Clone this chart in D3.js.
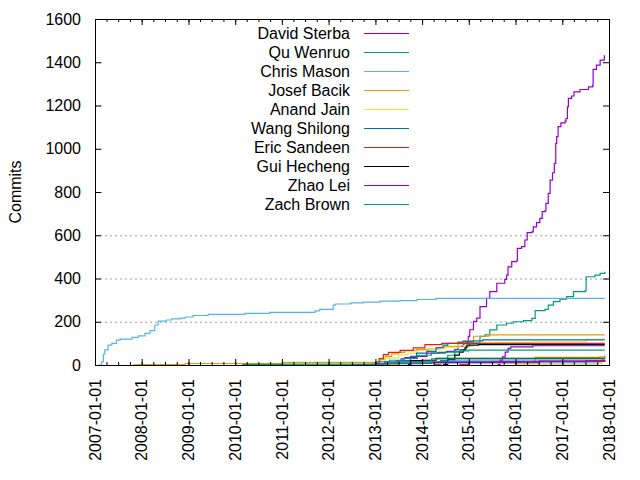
<!DOCTYPE html>
<html>
<head>
<meta charset="utf-8">
<script src="https://cdn.jsdelivr.net/npm/d3@7"></script>
<style>
  body { margin: 0; background: #fff; }
  text { font-family: "Liberation Sans", Arial, sans-serif; }
</style>
</head>
<body>
<div id="chart"></div>
<script>
// cumulative commits, [year as decimal, count]
const davidSterba = [[2012.6,1],[2012.9,3],[2013.2,8],[2013.45,20],[2013.55,28],[2013.63,34],[2013.88,40],[2014.1,55],[2014.35,58],[2014.53,63],[2014.7,71],[2014.77,86],[2014.88,97],[2014.92,102],[2014.99,132],[2015.02,163],[2015.1,202],[2015.17,217],[2015.24,270],[2015.38,308],[2015.45,339],[2015.6,378],[2015.77,396],[2015.81,416],[2015.84,454],[2015.92,478],[2016.02,481],[2016.04,539],[2016.13,547],[2016.2,578],[2016.25,612],[2016.35,616],[2016.38,639],[2016.45,658],[2016.52,678],[2016.57,709],[2016.63,713],[2016.65,747],[2016.7,794],[2016.74,855],[2016.79,889],[2016.83,932],[2016.86,1025],[2016.88,1056],[2016.91,1102],[2016.97,1120],[2017.06,1128],[2017.08,1140],[2017.11,1194],[2017.13,1233],[2017.2,1244],[2017.25,1263],[2017.38,1274],[2017.56,1286],[2017.65,1293],[2017.66,1367],[2017.73,1387],[2017.81,1410],[2017.9,1432]];
const quWenruo = [[2014.25,2],[2014.4,20],[2014.55,45],[2014.7,63],[2014.81,71],[2014.95,86],[2015.02,102],[2015.24,132],[2015.35,139],[2015.45,162],[2015.6,185],[2015.81,193],[2015.95,200],[2016.17,205],[2016.35,216],[2016.42,251],[2016.63,257],[2016.7,277],[2016.81,293],[2016.95,304],[2017.09,316],[2017.24,339],[2017.49,343],[2017.51,408],[2017.7,416],[2017.81,424],[2017.91,431]];
const chrisMason = [[2007.07,0],[2007.14,15],[2007.18,50],[2007.21,70],[2007.28,92],[2007.36,100],[2007.46,115],[2007.54,120],[2007.79,128],[2007.93,135],[2008.07,146],[2008.18,159],[2008.28,185],[2008.35,203],[2008.53,208],[2008.64,213],[2008.82,217],[2008.93,222],[2009.1,229],[2009.42,234],[2010.21,239],[2010.74,243],[2011.71,250],[2011.81,257],[2012.1,277],[2012.14,282],[2012.46,284],[2012.48,287],[2012.74,291],[2013.1,295],[2013.53,298],[2013.89,303],[2014.3,308],[2017.91,308]];
const josefBacik = [[2007.82,2],[2008.93,7],[2011.02,12],[2012.99,15],[2013.1,25],[2013.21,40],[2013.35,51],[2013.49,58],[2013.63,66],[2013.88,71],[2014.13,74],[2014.38,82],[2014.49,86],[2014.77,102],[2014.88,112],[2015.1,133],[2015.44,139],[2017.91,139]];
const anandJain = [[2013.0,3],[2013.2,32],[2013.5,48],[2013.7,55],[2013.9,66],[2014.2,74],[2014.5,82],[2014.8,88],[2015.1,100],[2015.3,105],[2016.37,107],[2017.5,110],[2017.52,120],[2017.91,120]];
const wangShilong = [[2013.2,3],[2013.5,20],[2013.75,40],[2013.88,55],[2014.1,63],[2014.3,80],[2014.45,92],[2014.55,100],[2014.77,106],[2014.88,109],[2015.1,112],[2015.3,116],[2017.91,116]];
const ericSandeen = [[2013.0,5],[2013.08,30],[2013.17,48],[2013.28,58],[2013.53,68],[2013.81,79],[2014.06,94],[2014.42,100],[2017.91,100]];
const guiHecheng = [[2014.45,3],[2014.55,25],[2014.7,46],[2014.8,60],[2014.88,69],[2014.92,82],[2014.96,92],[2015.2,94],[2017.91,94]];
const zhaoLei = [[2015.62,2],[2015.67,23],[2015.72,38],[2015.78,60],[2015.84,77],[2015.9,84],[2016.37,89],[2017.91,89]];
const zachBrown = [[2013.0,2],[2013.05,15],[2013.3,22],[2013.6,30],[2013.9,45],[2014.2,55],[2014.5,60],[2014.8,65],[2015.0,69],[2017.91,69]];
// smaller contributors, drawn without a key entry
const other11 = [[2011.0,2],[2013.2,5],[2014.0,8],[2016.5,10],[2017.85,25],[2017.91,46]];
const other12 = [[2013.1,3],[2013.5,8],[2014.5,12],[2016.4,18],[2016.42,35],[2017.8,38],[2017.91,42]];
const other13 = [[2016.0,2],[2017.7,3],[2017.75,10],[2017.85,22],[2017.91,30]];
const other14 = [[2013.0,2],[2013.2,14],[2014.4,18],[2017.91,20]];
const other15 = [[2014.8,2],[2015.0,12],[2016.5,15],[2017.5,20],[2017.91,22]];
const other16 = [[2013.7,3],[2013.75,20],[2014.0,22],[2014.3,31],[2017.91,31]];
const other17 = [[2012.5,2],[2013.0,8],[2014.2,12],[2015.5,15],[2016.5,18],[2017.91,22]];
const other18 = [[2010.15,3],[2011.0,4],[2013.3,10],[2014.2,28],[2017.91,28]];

const names = ["David Sterba","Qu Wenruo","Chris Mason","Josef Bacik","Anand Jain","Wang Shilong","Eric Sandeen","Gui Hecheng","Zhao Lei","Zach Brown"];
const seriesData = [davidSterba, quWenruo, chrisMason, josefBacik, anandJain, wangShilong, ericSandeen, guiHecheng, zhaoLei, zachBrown,
  other11, other12, other13, other14, other15, other16, other17, other18];
const colors = ["#9400d3","#009e73","#56b4e9","#e69f00","#f0e442","#0072b2","#e51e10","#000000"];
const yTicks = [0, 200, 400, 600, 800, 1000, 1200, 1400, 1600];
const xYears = d3.range(2007, 2019);

const width = 640, height = 480;
const plotL = 95, plotR = 609, plotT = 19, plotB = 365;

const yearToDate = f => {
  const yr = Math.floor(f);
  const a = Date.UTC(yr, 0, 1), b = Date.UTC(yr + 1, 0, 1);
  return new Date(a + (f - yr) * (b - a));
};

const svg = d3.select("#chart").append("svg")
  .attr("width", width)
  .attr("height", height);

const x = d3.scaleUtc()
  .domain([new Date(Date.UTC(2007, 0, 1)), new Date(Date.UTC(2018, 0, 1))])
  .range([plotL, plotR]);

const y = d3.scaleLinear()
  .domain([0, 1600])
  .range([plotB, plotT]);

// grid
svg.append("g")
  .selectAll("line")
  .data(yTicks.filter(d => d > 0 && d < 1600))
  .join("line")
  .attr("x1", plotL).attr("x2", plotR)
  .attr("y1", d => y(d) + 0.5).attr("y2", d => y(d) + 0.5)
  .attr("stroke", "#a0a0a0")
  .attr("stroke-width", 1)
  .attr("stroke-dasharray", "2,3");

// opaque key background hides upper grid lines
svg.append("rect")
  .attr("x", 103).attr("y", plotT)
  .attr("width", plotR - 103).attr("height", 214 - plotT)
  .attr("fill", "#fff");

// series
const line = d3.line()
  .x(d => x(yearToDate(d[0])))
  .y(d => y(d[1]))
  .curve(d3.curveStepAfter);

svg.append("g")
  .selectAll("path")
  .data(seriesData)
  .join("path")
  .attr("d", d => line(d))
  .attr("fill", "none")
  .attr("stroke", (d, i) => colors[i % colors.length])
  .attr("stroke-width", 1.2);

// axes
const yAxisL = svg.append("g")
  .attr("transform", `translate(${plotL},0)`)
  .call(d3.axisLeft(y).tickValues(yTicks).tickFormat(d3.format("d")).tickSize(-6).tickPadding(14));
const yAxisR = svg.append("g")
  .attr("transform", `translate(${plotR},0)`)
  .call(d3.axisRight(y).tickValues(yTicks).tickSize(-6).tickFormat(""));

const minor = d3.utcMonth.every(3).range(x.domain()[0], x.domain()[1]);
const yearDates = xYears.map(v => new Date(Date.UTC(v, 0, 1)));
const xMinorB = svg.append("g")
  .attr("transform", `translate(0,${plotB})`)
  .call(d3.axisBottom(x).tickValues(minor).tickSize(-3).tickFormat(""));
const xMinorT = svg.append("g")
  .attr("transform", `translate(0,${plotT})`)
  .call(d3.axisTop(x).tickValues(minor).tickSize(-3).tickFormat(""));
const xMajorB = svg.append("g")
  .attr("transform", `translate(0,${plotB})`)
  .call(d3.axisBottom(x).tickValues(yearDates).tickSize(-6).tickFormat(""));
const xMajorT = svg.append("g")
  .attr("transform", `translate(0,${plotT})`)
  .call(d3.axisTop(x).tickValues(yearDates).tickSize(-6).tickFormat(""));

[yAxisL, yAxisR, xMinorB, xMinorT, xMajorB, xMajorT].forEach(a => {
  a.select(".domain").remove();
  a.selectAll("line").attr("stroke", "#000");
});
yAxisL.selectAll("text")
  .attr("font-size", 16)
  .attr("fill", "#000")
  .attr("font-family", "'Liberation Sans', Arial, sans-serif");

svg.append("rect")
  .attr("x", plotL + 0.5).attr("y", plotT + 0.5)
  .attr("width", plotR - plotL).attr("height", plotB - plotT)
  .attr("fill", "none")
  .attr("stroke", "#000")
  .attr("stroke-width", 1);

// x tick labels, rotated
svg.append("g")
  .selectAll("text")
  .data(yearDates)
  .join("text")
  .attr("transform", d => `translate(${x(d)},379) rotate(-90)`)
  .attr("text-anchor", "end")
  .attr("dy", "0.35em")
  .attr("font-size", 16)
  .text(d => `${d.getUTCFullYear()}-01-01`);

svg.append("text")
  .attr("transform", "translate(21,192) rotate(-90)")
  .attr("text-anchor", "middle")
  .attr("font-size", 16)
  .text("Commits");

// key
const key = svg.append("g");
names.forEach((name, i) => {
  const ky = 33.5 + i * 19;
  key.append("text")
    .attr("x", 350).attr("y", ky)
    .attr("dy", "0.35em")
    .attr("text-anchor", "end")
    .attr("font-size", 16)
    .text(name);
  key.append("line")
    .attr("x1", 364).attr("x2", 409)
    .attr("y1", ky).attr("y2", ky)
    .attr("stroke", colors[i % colors.length])
    .attr("stroke-width", 1.2);
});
</script>
</body>
</html>
